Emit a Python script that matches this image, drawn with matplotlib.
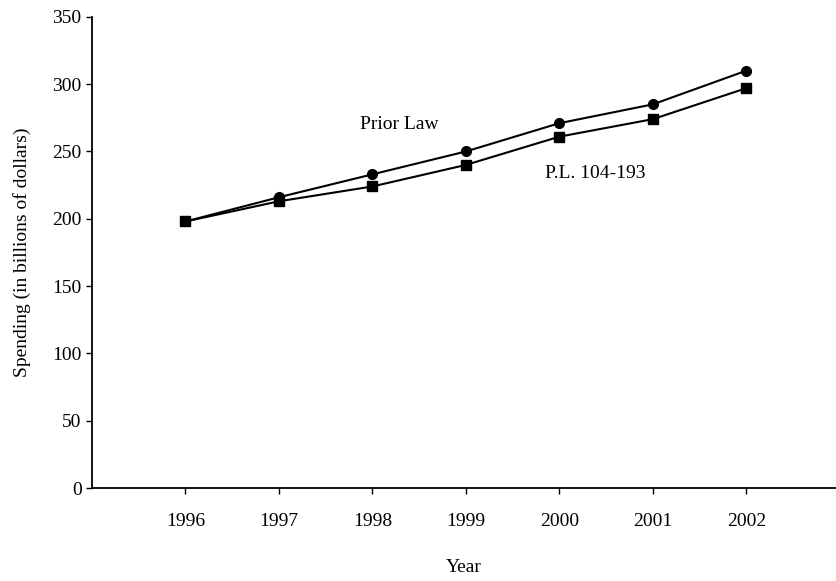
import matplotlib
matplotlib.use("Agg")
from matplotlib import pyplot as plt

years = [1996, 1997, 1998, 1999, 2000, 2001, 2002]
prior_law = [198, 216, 233, 250, 271, 285, 310]
pl_104_193 = [198, 213, 224, 240, 261, 274, 297]

plt.rcParams['font.family'] = ['Liberation Serif', 'DejaVu Serif']

fig = plt.figure(figsize=(8.36, 5.81), dpi=100)
ax = fig.add_axes([0.110, 0.160, 0.890, 0.811])

ax.plot(years, prior_law, color='black', lw=1.5, marker='o', markersize=7)
ax.plot(years, pl_104_193, color='black', lw=1.5, marker='s', markersize=6.5)

ax.text(1998.29, 270, 'Prior Law', fontsize=14, ha='center', va='center')
ax.text(2000.38, 234, 'P.L. 104-193', fontsize=14, ha='center', va='center')

ax.set_xlim(1995, 2002.96)
ax.set_ylim(0, 350)
ax.set_xticks(years)
ax.set_yticks(range(0, 351, 50))
ax.tick_params(direction='out', length=4, width=1, labelsize=14, colors='black')
ax.tick_params(axis='x', pad=14)
ax.spines['top'].set_visible(False)
ax.spines['right'].set_visible(False)
ax.spines['left'].set_linewidth(1.3)
ax.spines['bottom'].set_linewidth(1.3)

ax.set_xlabel('Year', fontsize=14, labelpad=21)
ax.set_ylabel('Spending (in billions of dollars)', fontsize=14, labelpad=15)

fig.savefig('out.png', dpi=100)
